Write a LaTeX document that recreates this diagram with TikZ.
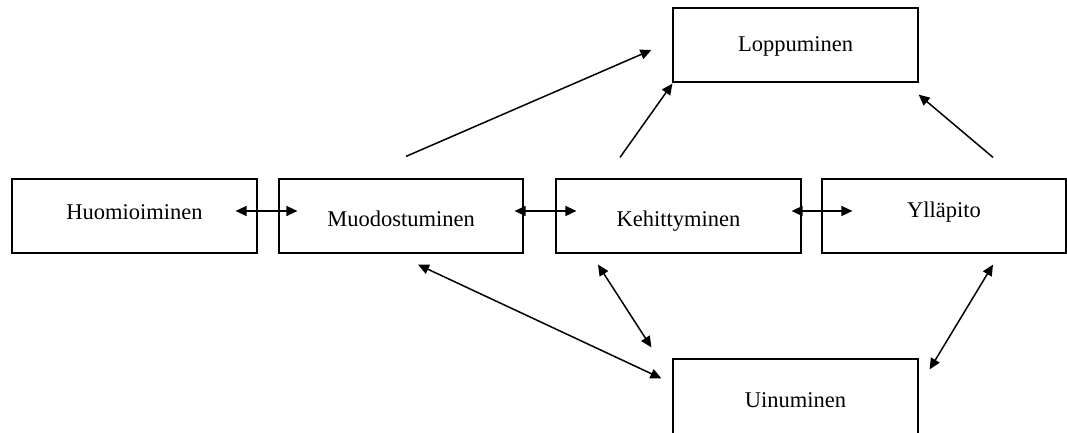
\documentclass[tikz,border=0pt]{standalone}
\usepackage{fontspec}
\setmainfont{Liberation Serif}
\usetikzlibrary{arrows.meta}
\begin{document}
\begin{tikzpicture}[x=1pt,y=-1pt,
  box/.style={draw, line width=1.2pt, minimum height=74pt, minimum width=245pt, inner sep=0pt,
    font=\fontsize{22.5}{27}\selectfont, text depth=0pt},
  con/.style={line width=1.5pt, -{Triangle[length=11pt,width=10pt]}},
  bicon/.style={line width=1.5pt, {Triangle[length=11pt,width=10pt]}-{Triangle[length=11pt,width=10pt]}}]
\useasboundingbox (0,0) rectangle (1067,433);
\node[box, text height=6.6pt] (huo) at (134.5,216) {Huomioiminen};
\node[box, minimum width=244pt, text height=21.4pt] (muo) at (401,216) {Muodostuminen};
\node[box, text height=21.4pt] (keh) at (678.5,216) {Kehittyminen};
\node[box, minimum width=244pt, text height=3.4pt] (yll) at (944,216) {Ylläpito\hspace{16pt}};
\node[box, text height=14pt] (lop) at (795.5,45) {Loppuminen};
\node[box, minimum height=80pt, text height=16pt] (uin) at (795.5,399) {Uinuminen};
% horizontal double arrows
\draw[bicon] ([shift={(-22,-5)}]huo.east) -- ([shift={(19,-5)}]muo.west);
\draw[bicon] ([shift={(-9,-5)}]muo.east) -- ([shift={(21,-5)}]keh.west);
\draw[bicon] ([shift={(-10,-5)}]keh.east) -- ([shift={(31,-5)}]yll.west);
% to Loppuminen
\draw[con] ([shift={(5,-22)}]muo.north) -- ([shift={(-21,5)}]lop.west);
\draw[con] ([shift={(-58.5,-21)}]keh.north) -- ([shift={(0,1)}]lop.south west);
\draw[con] ([shift={(49,-21)}]yll.north) -- ([shift={(0,12)}]lop.south east);
% to Uinuminen
\draw[bicon] ([shift={(17,11)}]muo.south) -- ([shift={(-11,20)}]uin.north west);
\draw[bicon] ([shift={(-80.5,11)}]keh.south) -- ([shift={(-21,-11)}]uin.north west);
\draw[bicon] ([shift={(49,11)}]yll.south) -- ([shift={(11,11)}]uin.north east);
\end{tikzpicture}
\end{document}
